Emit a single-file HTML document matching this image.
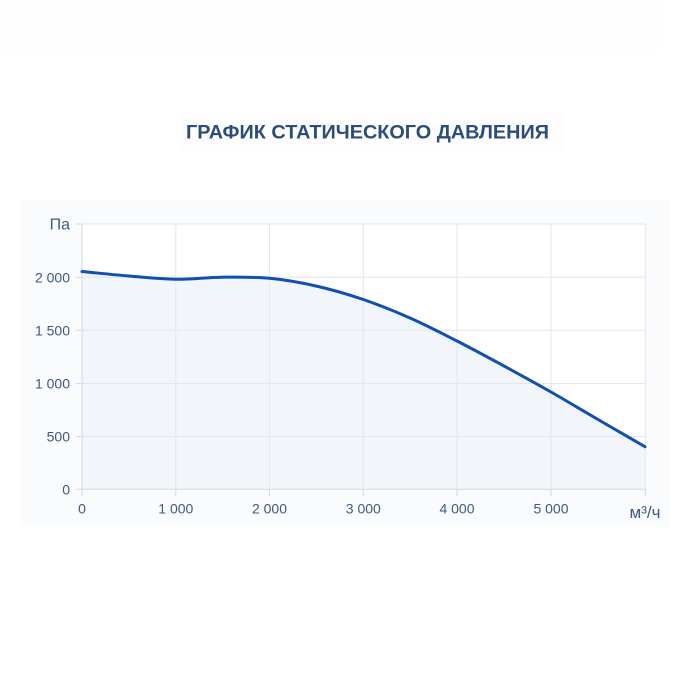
<!DOCTYPE html>
<html>
<head>
<meta charset="utf-8">
<style>
html,body{margin:0;padding:0;background:#ffffff;}
svg{display:block;}
text{font-family:"Liberation Sans","DejaVu Sans",sans-serif;}
</style>
</head>
<body>
<svg width="700" height="700" viewBox="0 0 700 700" xmlns="http://www.w3.org/2000/svg">
  <rect x="0" y="0" width="700" height="700" fill="#ffffff"/>
  <!-- faint panels -->
  <rect x="0" y="0" width="660" height="52" fill="#fefeff"/>
  <rect x="178" y="112" width="385" height="40" fill="#fdfdfe"/>
  <rect x="20" y="200" width="650" height="327" fill="#fafbfd"/>

  <!-- title -->
  <text x="367.5" y="138.5" text-anchor="middle" font-size="19.5" font-weight="bold" fill="#2b4c7d" textLength="363" lengthAdjust="spacingAndGlyphs">ГРАФИК СТАТИЧЕСКОГО ДАВЛЕНИЯ</text>

  <!-- plot background -->
  <rect x="82" y="224" width="563.3" height="265.3" fill="#ffffff"/>

  <!-- fill under curve -->
  <path d="M82,271.5 C97.7,273 113.3,274.7 129,276 C144.6,277.3 160.1,279 175.7,279.2 C191.3,279.4 206.6,277.35 222,277.2 C237.8,277.05 253.7,276.83 269.5,278.3 C285,279.77 300.5,282.47 316,286 C331.8,289.53 347.5,294.17 363.3,299.5 C378.9,304.83 394.4,311.08 410,318 C425.7,324.92 441.3,333 457,341 C472.7,349 488.3,357.5 504,366 C519.7,374.5 535.3,383.08 551,392 C566.7,400.92 582.3,410.38 598,419.5 C613.7,428.62 629.3,437.63 645,446.7 L645,489.3 L82,489.3 Z" fill="#f2f6fb"/>

  <!-- grid -->
  <g stroke="#e2e6ed" stroke-width="1" fill="none">
    <line x1="82" y1="224" x2="645.3" y2="224"/>
    <line x1="82" y1="277.3" x2="645.3" y2="277.3"/>
    <line x1="82" y1="330.3" x2="645.3" y2="330.3"/>
    <line x1="82" y1="383.5" x2="645.3" y2="383.5"/>
    <line x1="82" y1="436.5" x2="645.3" y2="436.5"/>
    <line x1="175.8" y1="224" x2="175.8" y2="489.3"/>
    <line x1="269.5" y1="224" x2="269.5" y2="489.3"/>
    <line x1="363.3" y1="224" x2="363.3" y2="489.3"/>
    <line x1="457" y1="224" x2="457" y2="489.3"/>
    <line x1="551" y1="224" x2="551" y2="489.3"/>
    <line x1="645.3" y1="224" x2="645.3" y2="489.3"/>
  </g>
  <!-- axes & ticks -->
  <g stroke="#d3d9e2" stroke-width="1" fill="none">
    <line x1="82" y1="224" x2="82" y2="496"/>
    <line x1="76" y1="489.3" x2="645.3" y2="489.3"/>
    <line x1="76" y1="224" x2="82" y2="224"/>
    <line x1="76" y1="277.3" x2="82" y2="277.3"/>
    <line x1="76" y1="330.3" x2="82" y2="330.3"/>
    <line x1="76" y1="383.5" x2="82" y2="383.5"/>
    <line x1="76" y1="436.5" x2="82" y2="436.5"/>
    <line x1="175.8" y1="489.3" x2="175.8" y2="496"/>
    <line x1="269.5" y1="489.3" x2="269.5" y2="496"/>
    <line x1="363.3" y1="489.3" x2="363.3" y2="496"/>
    <line x1="457" y1="489.3" x2="457" y2="496"/>
    <line x1="551" y1="489.3" x2="551" y2="496"/>
    <line x1="645.3" y1="489.3" x2="645.3" y2="496"/>
  </g>

  <!-- curve -->
  <path d="M82,271.5 C97.7,273 113.3,274.7 129,276 C144.6,277.3 160.1,279 175.7,279.2 C191.3,279.4 206.6,277.35 222,277.2 C237.8,277.05 253.7,276.83 269.5,278.3 C285,279.77 300.5,282.47 316,286 C331.8,289.53 347.5,294.17 363.3,299.5 C378.9,304.83 394.4,311.08 410,318 C425.7,324.92 441.3,333 457,341 C472.7,349 488.3,357.5 504,366 C519.7,374.5 535.3,383.08 551,392 C566.7,400.92 582.3,410.38 598,419.5 C613.7,428.62 629.3,437.63 645,446.7" fill="none" stroke="#1150b0" stroke-width="3" stroke-linecap="round" stroke-linejoin="round"/>

  <!-- y labels -->
  <g font-size="14" fill="#3f5a80" text-anchor="end">
    <text x="70" y="229.5" font-size="16">Па</text>
    <text x="70" y="282.3">2 000</text>
    <text x="70" y="335.3">1 500</text>
    <text x="70" y="388.5">1 000</text>
    <text x="70" y="441.5">500</text>
    <text x="70" y="494.3">0</text>
  </g>
  <!-- x labels -->
  <g font-size="14" fill="#3f5a80" text-anchor="middle">
    <text x="82" y="513.5">0</text>
    <text x="175.8" y="513.5">1 000</text>
    <text x="269.5" y="513.5">2 000</text>
    <text x="363.3" y="513.5">3 000</text>
    <text x="457" y="513.5">4 000</text>
    <text x="551" y="513.5">5 000</text>
    <text x="645" y="518" font-size="17">м³/ч</text>
  </g>
</svg>
</body>
</html>
